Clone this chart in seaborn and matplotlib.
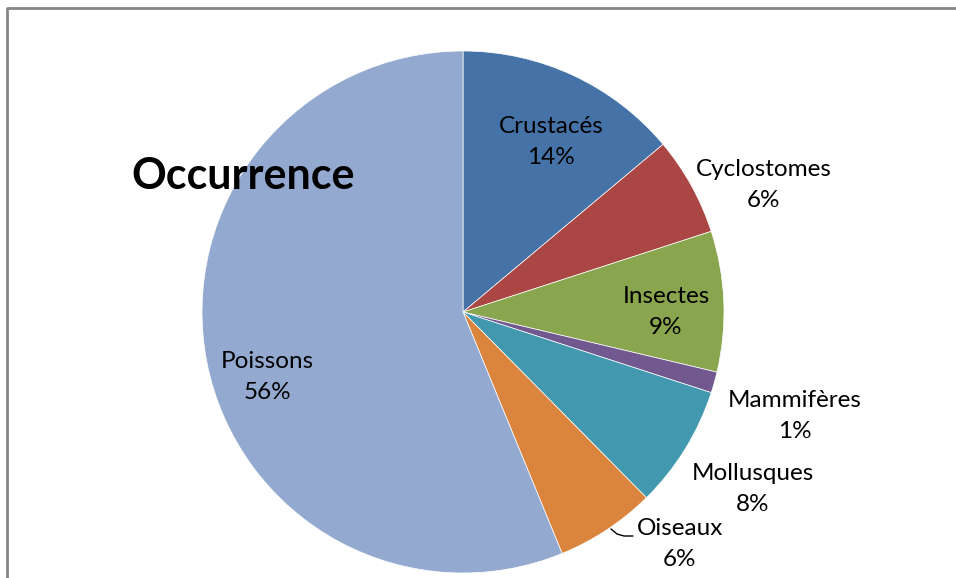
import matplotlib
matplotlib.use("Agg")
import matplotlib.pyplot as plt
import seaborn as sns

# data (slice shares, in %)
categories = ["Crustacés", "Cyclostomes", "Insectes", "Mammifères",
              "Mollusques", "Oiseaux", "Poissons"]
shares = [13.9, 6.1, 8.7, 1.3, 7.6, 6.2, 56.2]
colors = ["#4572A7", "#AA4643", "#89A54E", "#71588F",
          "#4198AF", "#DB843D", "#93A9CF"]
title = "Occurrence"

# label centres in pixels (x, y from top) - layout only
label_pos = [(551, 142), (764, 185), (666, 312), (795, 416),
             (753, 489), (680, 544), (267, 377)]

W, H = 956, 578

sns.set_theme(style="white")
plt.rcParams["font.family"] = ["Lato", "DejaVu Sans"]

fig = plt.figure(figsize=(W / 100, H / 100), dpi=100)
ax = fig.add_axes([0, 0, 1, 1])
ax.axis("off")

ax.pie(shares, colors=sns.color_palette(colors), startangle=90,
       counterclock=False, center=(463, H - 312), radius=261,
       wedgeprops=dict(edgecolor="white", linewidth=0.5), frame=False)
ax.set_xlim(0, W)
ax.set_ylim(0, H)
ax.set_aspect("equal")

for name, val, (x, y) in zip(categories, shares, label_pos):
    ax.text(x, H - y, f"{name}\n{val:.0f}%", ha="center", va="center",
            fontsize=17.5, linespacing=1.6, color="black")

# leader line for Oiseaux
ax.plot([611, 617, 624, 633], [H - 529, H - 534, H - 536, H - 536],
        color="black", lw=1)

ax.text(243, H - 176, title, ha="center", va="center",
        fontsize=31, fontweight="bold", color="black")

# chart frame (only left and top visible)
ax.plot([7.5, 7.5, W + 10], [-10, H - 7.5, H - 7.5],
        color="#868686", lw=2, clip_on=False)

fig.savefig("out.png", dpi=100)
